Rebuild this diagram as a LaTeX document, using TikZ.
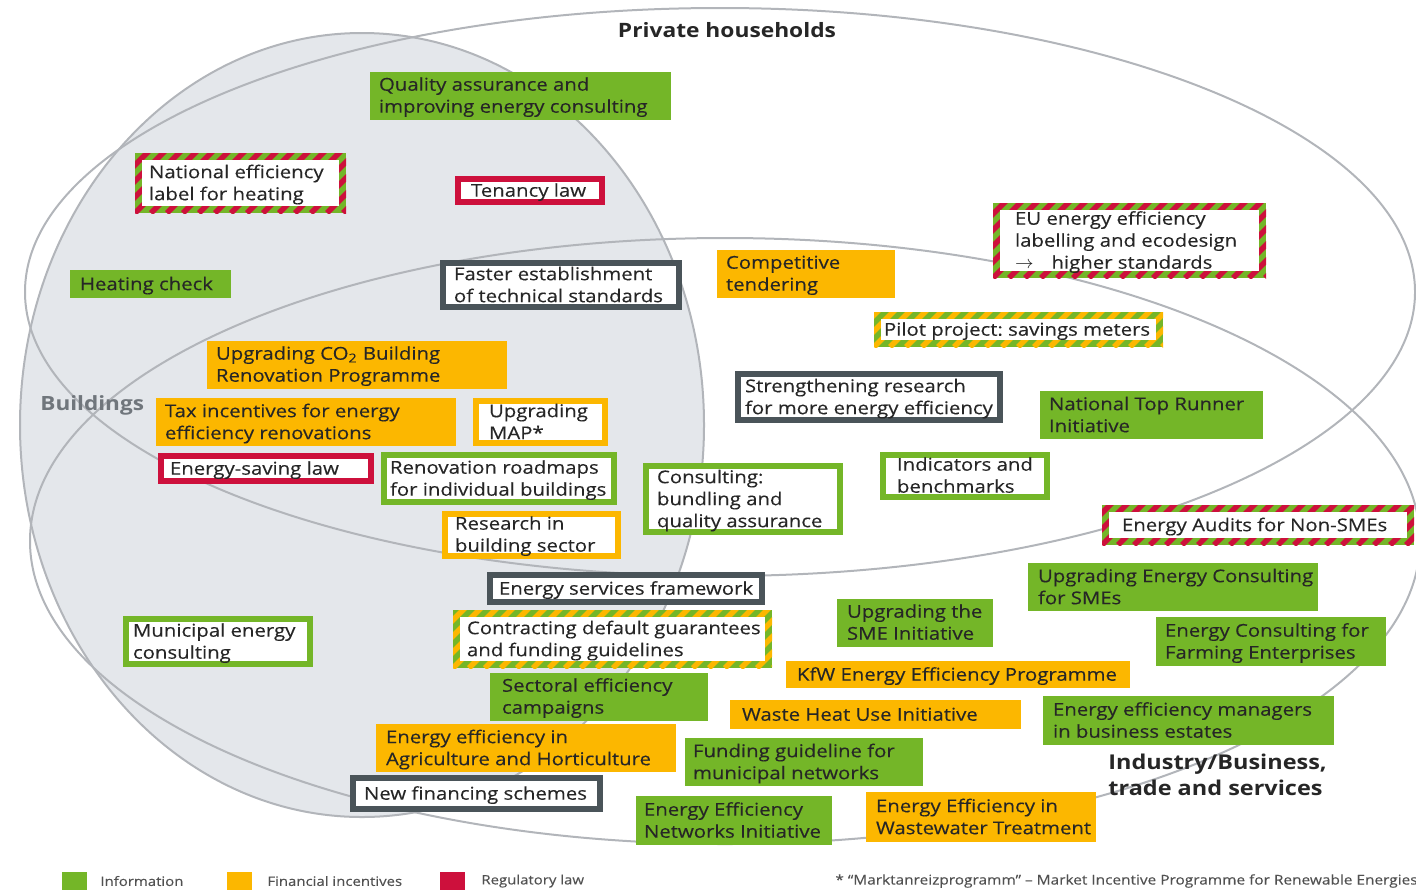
\documentclass[tikz,border=0pt]{standalone}
\usepackage{fontspec}
\setmainfont{Open Sans}[FakeStretch=1.15, UprightFeatures={FakeBold=0.25}]
\frenchspacing

\definecolor{polgreen}{RGB}{116,182,40}
\definecolor{polorange}{RGB}{252,183,0}
\definecolor{polred}{RGB}{205,16,60}
\definecolor{polslate}{RGB}{74,84,89}
\definecolor{bldgrey}{RGB}{228,231,235}
\definecolor{ringgrey}{RGB}{178,181,186}
\definecolor{poltext}{RGB}{38,38,38}
\definecolor{labgrey}{RGB}{112,118,124}

\newcommand{\polsize}{\fontsize{8.85}{11}\selectfont}

\tikzset{
  pol/.style={font=\polsize, text=poltext, inner ysep=1pt},
  fillb/.style={pol, fill=#1},
  frameb/.style={pol, fill=#1, path picture={
      \fill[white] ([shift={(3pt,3pt)}]path picture bounding box.south west)
        rectangle ([shift={(-3pt,-3pt)}]path picture bounding box.north east);}},
  stripes/.style 2 args={pol, fill=#1, path picture={
      \foreach \k in {-8,...,24}
        \draw[#2, line width=2.8pt] ([xshift=\k*8pt]path picture bounding box.south west) -- ++(45:70pt);
      \fill[white] ([shift={(3.5pt,3.5pt)}]path picture bounding box.south west)
        rectangle ([shift={(-3.5pt,-3.5pt)}]path picture bounding box.north east);}},
  infofill/.style={fillb=polgreen},
  finfill/.style={fillb=polorange},
  infoframe/.style={frameb=polgreen},
  finframe/.style={frameb=polorange},
  lawframe/.style={frameb=polred},
  crossframe/.style={frameb=polslate},
  stripeRG/.style={stripes={polgreen}{polred}},
  stripeOG/.style={stripes={polgreen}{polorange}},
  ring/.style={draw=ringgrey, line width=1pt},
  sector/.style={text=poltext, inner sep=0pt},
  legsq/.style={minimum width=12.5pt, minimum height=10pt, inner sep=0pt},
  legtext/.style={font=\fontsize{6.5}{8}\selectfont, text=poltext!80, anchor=west, inner sep=0pt}
}

% measure box: [padding]{style}{name}{left}{top}{right}{bottom}{text}
\newcommand{\policy}[8][4.5]{%
  \pgfmathsetmacro\polw{(#6-#4)/2}%
  \pgfmathsetmacro\polh{(#7-#5)/2}%
  \pgfmathsetmacro\poltw{\polw-2*#1}%
  \node[#2, minimum width=\polw pt, minimum height=\polh pt, inner xsep=#1pt]
    (#3) at ({(#4+#6)/2},{(#5+#7)/2})
    {\makebox[\poltw pt][l]{\raisebox{-0.9pt}[\height][\depth]{\begin{tabular}{@{}l@{}}#8\end{tabular}}}};}

\begin{document}
\begin{tikzpicture}[x=0.5pt, y=-0.5pt]
  \useasboundingbox (0,0) rectangle (1416,889);
  \clip (0,0) rectangle (1416,889);

  % sectors
  \fill[bldgrey] (362,425) ellipse [x radius=342, y radius=392];
  \draw[ring] (362,425) ellipse [x radius=342, y radius=392];
  \draw[ring] (720,292) ellipse [x radius=695, y radius=284];
  \draw[ring] (725,541) ellipse [x radius=695, y radius=303];

  \node[sector, font=\fontsize{9.9}{13}\selectfont\bfseries] (hh) at (727,30) {Private households};
  \node[sector, font=\fontsize{9.8}{13}\selectfont\bfseries, text=labgrey, anchor=west] (bld) at (40,405) {Buildings};
  \node[sector, font=\fontsize{10.2}{13}\selectfont\bfseries, anchor=north west, align=left] (ibt) at (1108,754)
    {Industry/Business,\\trade and services};

  % measures
  \policy{infofill}{qa}{370}{72}{671}{119}{Quality assurance and\\improving energy consulting}
  \policy[7]{stripeRG}{nel}{135}{153}{346}{213}{National efficiency\\label for heating}
  \policy[8]{lawframe}{ten}{455}{176}{605}{205}{Tenancy law}
  \policy[5]{infofill}{hc}{70}{270}{231}{298}{Heating check}
  \policy[7]{crossframe}{fets}{440}{260}{682}{310}{Faster establishment\\of technical standards}
  \policy{finfill}{ct}{717}{250}{895}{297}{Competitive\\tendering}
  \policy[11]{stripeRG}{eu}{993}{203}{1266}{278}{EU energy efficiency\\labelling and ecodesign\\$\rightarrow$\hspace{9pt}higher standards}
  \policy[5]{stripeOG}{pilot}{874}{312}{1163}{347}{Pilot project: savings meters}
  \policy{finfill}{co2}{207}{341}{507}{388}{Upgrading CO\textsubscript{2} Building\\Renovation Programme}
  \policy{finfill}{tax}{156}{398}{456}{446}{Tax incentives for energy\\efficiency renovations}
  \policy[8]{finframe}{map}{473}{398}{608}{446}{Upgrading\\MAP*}
  \policy[5]{crossframe}{sr}{735}{371}{1003}{423}{Strengthening research\\for more energy efficiency}
  \policy{infofill}{tr}{1040}{392}{1263}{438}{National Top Runner\\Initiative}
  \policy[6]{lawframe}{esl}{158}{453}{374}{484}{Energy-saving law}
  \policy[4.5]{infoframe}{rr}{381}{452}{617}{505}{Renovation roadmaps\\for individual buildings}
  \policy[7]{infoframe}{cons}{643}{463}{843}{535}{Consulting:\\bundling and\\quality assurance}
  \policy[8.5]{infoframe}{ind}{880}{452}{1050}{499}{Indicators and\\benchmarks}
  \policy[10]{stripeRG}{audit}{1102}{505}{1414}{545}{Energy Audits for Non-SMEs}
  \policy[6.5]{finframe}{rbs}{442}{511}{621}{558}{Research in\\building sector}
  \policy[6]{crossframe}{esf}{487}{572}{765}{605}{Energy services framework}
  \policy[5]{infofill}{sme}{1028}{563}{1318}{611}{Upgrading Energy Consulting\\for SMEs}
  \policy[5]{infofill}{smei}{837}{599}{993}{646}{Upgrading the\\SME Initiative}
  \policy{infofill}{farm}{1156}{617}{1386}{666}{Energy Consulting for\\Farming Enterprises}
  \policy[5]{infoframe}{mun}{123}{616}{313}{667}{Municipal energy\\consulting}
  \policy[7]{stripeOG}{cdg}{453}{610}{772}{668}{Contracting default guarantees\\and funding guidelines}
  \policy[5.5]{finfill}{kfw}{786}{661}{1130}{688}{KfW Energy Efficiency Programme}
  \policy[6]{infofill}{sec}{490}{673}{708}{720}{Sectoral efficiency\\campaigns}
  \policy[6]{finfill}{whu}{730}{700}{1021}{729}{Waste Heat Use Initiative}
  \policy[5]{infofill}{eem}{1043}{696}{1334}{745}{Energy efficiency managers\\in business estates}
  \policy[5]{finfill}{agri}{376}{724}{676}{772}{Energy efficiency in\\Agriculture and Horticulture}
  \policy[4]{infofill}{fgm}{685}{738}{923}{786}{Funding guideline for\\municipal networks}
  \policy[7]{crossframe}{nfs}{350}{775}{603}{812}{New financing schemes}
  \policy[4]{infofill}{een}{636}{796}{832}{845}{Energy Efficiency\\Networks Initiative}
  \policy[5]{finfill}{eww}{866}{792}{1096}{842}{Energy Efficiency in\\Wastewater Treatment}

  % legend
  \node[legsq, fill=polgreen] (lgi) at (74.5,882) {};
  \node[legtext] (lti) at (100,881) {Information};
  \node[legsq, fill=polorange] (lgf) at (239.5,882) {};
  \node[legtext] (ltf) at (267,881) {Financial incentives};
  \node[legsq, fill=polred] (lgr) at (452.5,882) {};
  \node[legtext] (ltr) at (481,881) {Regulatory law};
  \node[legtext, font=\fontsize{6.7}{8}\selectfont] (fn) at (835,881)
    {* “Marktanreizprogramm” – Market Incentive Programme for Renewable Energies};
\end{tikzpicture}
\end{document}
